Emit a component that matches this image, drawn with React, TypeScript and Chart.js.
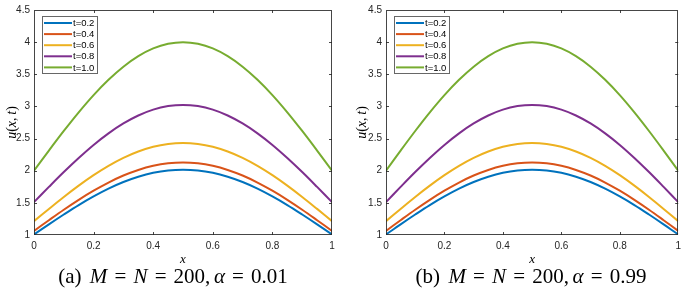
import { useEffect, useRef } from 'react';
import { Chart, registerables } from 'chart.js';

Chart.register(...registerables);

// ---------- data ----------
const xValues = [0, 0.05, 0.1, 0.15, 0.2, 0.25, 0.3, 0.35, 0.4, 0.45, 0.5, 0.55, 0.6, 0.65, 0.7, 0.75, 0.8, 0.85, 0.9, 0.95, 1];
const seriesLabels = ['t=0.2', 't=0.4', 't=0.6', 't=0.8', 't=1.0'];
const seriesColors = ['#0072BD', '#D95319', '#EDB120', '#7E2F8E', '#77AC30'];
const uT02 = [1.008, 1.166, 1.319, 1.466, 1.600, 1.721, 1.824, 1.906, 1.967, 2.004, 2.016, 2.004, 1.967, 1.906, 1.824, 1.721, 1.600, 1.466, 1.319, 1.166, 1.008];
const uT04 = [1.064, 1.230, 1.393, 1.547, 1.689, 1.816, 1.925, 2.012, 2.076, 2.115, 2.128, 2.115, 2.076, 2.012, 1.925, 1.816, 1.689, 1.547, 1.393, 1.230, 1.064];
const uT06 = [1.216, 1.406, 1.592, 1.768, 1.931, 2.076, 2.200, 2.299, 2.373, 2.417, 2.432, 2.417, 2.373, 2.299, 2.200, 2.076, 1.931, 1.768, 1.592, 1.406, 1.216];
const uT08 = [1.512, 1.748, 1.979, 2.198, 2.401, 2.581, 2.735, 2.859, 2.950, 3.005, 3.024, 3.005, 2.950, 2.859, 2.735, 2.581, 2.401, 2.198, 1.979, 1.748, 1.512];
const uT10 = [2.000, 2.313, 2.618, 2.908, 3.176, 3.414, 3.618, 3.782, 3.902, 3.975, 4.000, 3.975, 3.902, 3.782, 3.618, 3.414, 3.176, 2.908, 2.618, 2.313, 2.000];
const seriesValues = [uT02, uT04, uT06, uT08, uT10];

const xTickValues = [0, 0.2, 0.4, 0.6, 0.8, 1];
const xTickLabels = ['0', '0.2', '0.4', '0.6', '0.8', '1'];
const yTickValues = [1, 1.5, 2, 2.5, 3, 3.5, 4, 4.5];
const yTickLabels = ['1', '1.5', '2', '2.5', '3', '3.5', '4', '4.5'];

const panelTags = ['(a)', '(b)'];
const panelGrid = ['200', '200'];
const panelAlphas = ['0.01', '0.99'];

// ---------- helpers ----------
type Run = { text?: string; italic?: boolean; space?: number };
const SERIF = '"Liberation Serif", "DejaVu Serif", serif';
const SANS = '"Liberation Sans", Arial, sans-serif';
const AXIS_COLOR = '#262626';

function runsWidth(ctx: CanvasRenderingContext2D, runs: Run[], size: number) {
  let w = 0;
  for (const r of runs) {
    if (r.space) { w += r.space * size; continue; }
    ctx.font = `${r.italic ? 'italic ' : ''}${size}px ${SERIF}`;
    w += ctx.measureText(r.text || '').width;
  }
  return w;
}

function drawRuns(ctx: CanvasRenderingContext2D, runs: Run[], size: number, cx: number, baseline: number) {
  const w = runsWidth(ctx, runs, size);
  let x = cx - w / 2;
  ctx.textAlign = 'left';
  ctx.textBaseline = 'alphabetic';
  for (const r of runs) {
    if (r.space) { x += r.space * size; continue; }
    ctx.font = `${r.italic ? 'italic ' : ''}${size}px ${SERIF}`;
    ctx.fillText(r.text || '', x, baseline);
    x += ctx.measureText(r.text || '').width;
  }
}

type PanelProps = { index: number; left: number; width: number; padRight: number; yLabelX: number; captionX: number };

function Panel({ index, left, width, padRight, yLabelX, captionX }: PanelProps) {
  const ref = useRef<HTMLCanvasElement | null>(null);

  useEffect(() => {
    const canvas = ref.current;
    if (!canvas) return;

    const decor = {
      id: 'matlabDecor',
      afterDraw(chart: any) {
        const ctx: CanvasRenderingContext2D = chart.ctx;
        const a = chart.chartArea;
        const xs = chart.scales.x;
        const ys = chart.scales.y;
        ctx.save();
        // box
        ctx.strokeStyle = 'rgba(38,38,38,0.85)';
        ctx.lineWidth = 1;
        ctx.strokeRect(Math.round(a.left) + 0.5, Math.round(a.top) + 0.5, Math.round(a.right - a.left) - 1, Math.round(a.bottom - a.top) - 1);
        // inward ticks
        const tl = 3;
        ctx.beginPath();
        xTickValues.forEach((v, i) => {
          if (i === 0 || i === xTickValues.length - 1) return;
          const px = Math.round(xs.getPixelForValue(v)) + 0.5;
          ctx.moveTo(px, a.bottom); ctx.lineTo(px, a.bottom - tl);
          ctx.moveTo(px, a.top); ctx.lineTo(px, a.top + tl);
        });
        yTickValues.forEach((v, i) => {
          if (i === 0 || i === yTickValues.length - 1) return;
          const py = Math.round(ys.getPixelForValue(v)) + 0.5;
          ctx.moveTo(a.left, py); ctx.lineTo(a.left + tl, py);
          ctx.moveTo(a.right, py); ctx.lineTo(a.right - tl, py);
        });
        ctx.stroke();

        // legend
        const lx = a.left + 8, ly = a.top + 6, lw = 55, lh = 57;
        ctx.fillStyle = '#ffffff';
        ctx.fillRect(lx, ly, lw, lh);
        ctx.strokeStyle = 'rgba(38,38,38,0.7)';
        ctx.lineWidth = 1;
        ctx.strokeRect(Math.round(lx) + 0.5, Math.round(ly) + 0.5, lw, lh);
        ctx.font = `9.5px ${SANS}`;
        ctx.textAlign = 'left';
        ctx.textBaseline = 'middle';
        seriesLabels.forEach((lab, i) => {
          const ry = ly + 7 + i * 11.1;
          ctx.strokeStyle = seriesColors[i];
          ctx.lineWidth = 2;
          ctx.beginPath();
          ctx.moveTo(lx + 2, ry); ctx.lineTo(lx + 30, ry);
          ctx.stroke();
          ctx.fillStyle = '#000000';
          ctx.fillText(lab, lx + 31, ry + 0.5);
        });

        // axis labels
        ctx.fillStyle = '#000000';
        const labelSize = 14;
        drawRuns(ctx, [{ text: 'x', italic: true }], 13, (a.left + a.right) / 2, 263);
        ctx.save();
        ctx.translate(yLabelX, (a.top + a.bottom) / 2);
        ctx.rotate(-Math.PI / 2);
        drawRuns(ctx, [
          { text: 'u', italic: true }, { text: '(' }, { text: 'x', italic: true }, { text: ',' },
          { space: 0.2 }, { text: 't', italic: true }, { text: ')' },
        ], labelSize, 0, labelSize * 0.35);
        ctx.restore();

        // caption
        const capSize = 21;
        const eq = 0.34;
        drawRuns(ctx, [
          { text: panelTags[index] }, { space: 0.4 },
          { text: 'M', italic: true }, { space: eq }, { text: '=' }, { space: eq },
          { text: 'N', italic: true }, { space: eq }, { text: '=' }, { space: eq },
          { text: panelGrid[index] + ',' }, { space: 0.17 },
          { text: 'α', italic: true }, { space: eq }, { text: '=' }, { space: eq },
          { text: panelAlphas[index] },
        ], capSize, captionX, 283);
        ctx.restore();
      },
    };

    const chart = new Chart(canvas, {
      type: 'line',
      data: {
        datasets: seriesValues.map((vals, i) => ({
          label: seriesLabels[i],
          data: xValues.map((x, j) => ({ x, y: vals[j] })),
          borderColor: seriesColors[i],
          backgroundColor: seriesColors[i],
          borderWidth: 2,
          pointRadius: 0,
          tension: 0.35,
          fill: false,
        })),
      },
      options: {
        animation: false,
        responsive: false,
        devicePixelRatio: 1,
        layout: { padding: { top: 4, left: 0, right: padRight, bottom: 0 } },
        plugins: { legend: { display: false }, tooltip: { enabled: false }, title: { display: false } },
        scales: {
          x: {
            type: 'linear',
            min: 0,
            max: 1,
            afterBuildTicks: (s: any) => { s.ticks = xTickValues.map((v) => ({ value: v })); },
            afterFit: (s: any) => { s.height = 55; },
            ticks: {
              callback: (_v: any, i: number) => xTickLabels[i],
              padding: 5,
              maxRotation: 0,
              autoSkip: false,
              color: AXIS_COLOR,
              font: { family: SANS, size: 10 },
            },
            grid: { display: false, drawTicks: false },
            border: { display: false },
          },
          y: {
            type: 'linear',
            min: 1,
            max: 4.5,
            afterBuildTicks: (s: any) => { s.ticks = yTickValues.map((v) => ({ value: v })); },
            afterFit: (s: any) => { s.width = 34; },
            ticks: {
              callback: (_v: any, i: number) => yTickLabels[i],
              padding: 4,
              autoSkip: false,
              color: AXIS_COLOR,
              font: { family: SANS, size: 10 },
            },
            grid: { display: false, drawTicks: false },
            border: { display: false },
          },
        },
      } as any,
      plugins: [decor],
    });
    return () => chart.destroy();
  }, [index, padRight, yLabelX, captionX]);

  return (
    <canvas
      ref={ref}
      width={width}
      height={290}
      style={{ position: 'absolute', left, top: 0, width, height: 290, display: 'block' }}
    />
  );
}

export default function App() {
  return (
    <div style={{ position: 'absolute', left: 0, top: 0, width: 685, height: 290, overflow: 'hidden', background: '#ffffff' }}>
      <Panel index={0} left={0} width={342} padRight={10} yLabelX={11} captionX={173} />
      <Panel index={1} left={352} width={334} padRight={3} yLabelX={9} captionX={179} />
    </div>
  );
}
